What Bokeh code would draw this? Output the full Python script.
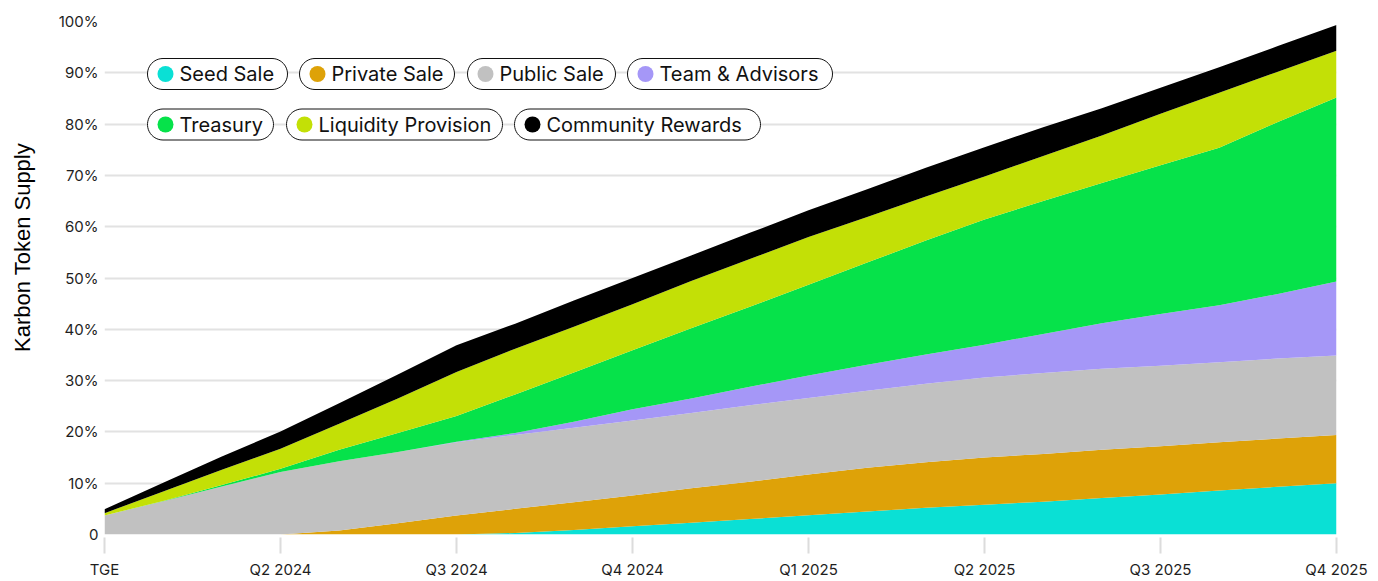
import numpy as np
from bokeh.plotting import figure
from bokeh.models import ColumnDataSource, FixedTicker, Range1d
from bokeh.core.properties import value
from bokeh.embed import file_html
from bokeh.resources import INLINE

# ---------------- data ----------------
months = list(range(22))  # months since TGE
tick_months = [0, 3, 6, 9, 12, 15, 18, 21]
tick_labels = ["TGE", "Q2 2024", "Q3 2024", "Q4 2024", "Q1 2025", "Q2 2025", "Q3 2025", "Q4 2025"]
y_ticks = [0, 10, 20, 30, 40, 50, 60, 70, 80, 90, 100]
y_tick_labels = ["0", "10%", "20%", "30%", "40%", "50%", "60%", "70%", "80%", "90%", "100%"]
y_title = "Karbon Token Supply"

series_names = ["Seed Sale", "Private Sale", "Public Sale", "Team & Advisors",
                "Treasury", "Liquidity Provision", "Community Rewards"]

seed_sale = [0, 0, 0, 0, 0, 0, 0, 0.3, 0.9, 1.6, 2.3, 3.0, 3.75, 4.5, 5.2, 5.8, 6.4, 7.1, 7.8, 8.6, 9.3, 10.0]
private_sale = [0, 0, 0, 0, 0.8, 2.2, 3.7, 4.7, 5.4, 6.0, 6.7, 7.3, 7.95, 8.5, 8.9, 9.2, 9.3, 9.4, 9.4, 9.4, 9.4, 9.4]
public_sale = [3.7, 6.5, 9.35, 12.2, 13.5, 13.9, 14.3, 14.4, 14.5, 14.6, 14.7, 14.9, 14.9, 15.0, 15.3, 15.6, 15.8, 15.8, 15.7, 15.6, 15.6, 15.5]
team_advisors = [0, 0, 0, 0, 0, 0, 0.1, 0.4, 1.2, 2.2, 2.8, 3.6, 4.4, 5.1, 5.7, 6.4, 7.6, 8.9, 10.1, 11.1, 12.6, 14.4]
treasury = [0, 0.05, 0.3, 0.6, 2.2, 3.7, 5.0, 7.5, 9.6, 11.5, 13.7, 15.6, 17.7, 19.9, 22.2, 24.4, 25.9, 27.3, 29.0, 30.7, 33.5, 35.9]
liquidity_provision = [0.45, 1.85, 2.95, 3.9, 5.1, 6.7, 8.6, 8.9, 8.9, 9.0, 9.2, 9.3, 9.3, 8.9, 8.6, 8.4, 8.8, 9.3, 10.0, 10.7, 9.8, 9.1]
community_rewards = [0.75, 1.7, 2.6, 3.4, 4.0, 4.7, 5.2, 4.9, 5.1, 5.1, 5.0, 5.1, 5.2, 5.4, 5.6, 5.7, 5.6, 5.3, 5.1, 5.0, 5.0, 5.0]

colors = ["#0ae0d5", "#dea208", "#c1c1c1", "#a597f7", "#06e24a", "#c3e006", "#000000"]

# ---------------- layout (pixels) ----------------
W, H = 1378, 581
FL, FR, FT, FB = 104, 1336, 21, 534
XMAX = months[-1]


def dx(px):
    return (px - FL) * XMAX / (FR - FL)


def dy(py):
    return (FB - py) * 100.0 / (FB - FT)


p = figure(width=W, height=H, x_range=Range1d(0, XMAX), y_range=Range1d(0, 100),
           output_backend="svg", toolbar_location=None,
           min_border_left=FL, min_border_right=W - FR,
           min_border_top=FT, min_border_bottom=H - FB)
p.outline_line_color = None
p.background_fill_color = "white"
p.border_fill_color = "white"

keys = ["seed", "private", "public", "team", "treasury", "liquidity", "community"]
src = ColumnDataSource(dict(x=months, seed=seed_sale, private=private_sale, public=public_sale,
                            team=team_advisors, treasury=treasury, liquidity=liquidity_provision,
                            community=community_rewards))
p.varea_stack(stackers=keys, x="x", color=colors, source=src)

# grid
p.xgrid.visible = False
p.ygrid.ticker = FixedTicker(ticks=y_ticks)
p.ygrid.grid_line_color = "#e2e2e2"
p.ygrid.grid_line_width = 2

# x axis
xa = p.xaxis[0]
xa.ticker = FixedTicker(ticks=tick_months)
xa.major_label_overrides = {t: lab for t, lab in zip(tick_months, tick_labels)}
xa.axis_line_color = None
xa.major_tick_line_color = "#dcdcdc"
xa.major_tick_line_width = 2
xa.major_tick_in = -3
xa.major_tick_out = 19
xa.minor_tick_line_color = None
xa.major_label_standoff = 6
xa.major_label_text_font = "Inter"
xa.major_label_text_font_size = "15px"
xa.major_label_text_color = "#1e1e1e"

# y axis
ya = p.yaxis[0]
ya.ticker = FixedTicker(ticks=y_ticks)
ya.major_label_overrides = {t: lab for t, lab in zip(y_ticks, y_tick_labels)}
ya.axis_line_color = None
ya.major_tick_line_color = None
ya.minor_tick_line_color = None
ya.major_tick_in = 0
ya.major_tick_out = 0
ya.major_label_text_align = "left"
ya.major_label_standoff = 6
ya.major_label_text_font = "Inter"
ya.major_label_text_font_size = "15px"
ya.major_label_text_color = "#1e1e1e"
# leading no-break spaces lift the (centred) title above the frame centre, as in the original
ya.axis_label = "\u00a0" * 10 + y_title
ya.axis_label_standoff = 21
ya.axis_label_text_font = "Liberation Sans"
ya.axis_label_text_font_style = "normal"
ya.axis_label_text_font_size = "22px"
ya.axis_label_text_color = "#000000"

# legend pills
pill_rows = [73.5, 73.5, 73.5, 73.5, 124, 124, 124]
pill_left = [147, 299, 467, 627, 147, 286, 514]
pill_right = [287, 454, 615, 832, 273, 502, 760]
r = 15.5
xs, ys = [], []
for cy, l, rr in zip(pill_rows, pill_left, pill_right):
    th1 = np.linspace(-np.pi / 2, np.pi / 2, 24)
    th2 = np.linspace(np.pi / 2, 3 * np.pi / 2, 24)
    px = np.concatenate([(rr - r) + r * np.cos(th1), (l + r) + r * np.cos(th2)])
    py = np.concatenate([cy + r * np.sin(th1), cy + r * np.sin(th2)])
    xs.append(list(dx(px)))
    ys.append(list(dy(py)))
p.patches(xs, ys, fill_color="white", line_color="#111111", line_width=1)

dot_x = [dx(l + 18) for l in pill_left]
dot_y = [dy(cy) for cy in pill_rows]
p.scatter(x=dot_x, y=dot_y, size=16, marker="circle", fill_color=colors, line_color=None)
p.text(x=[dx(l + 32) for l in pill_left], y=dot_y, text=series_names,
       text_font=value("Inter"), text_font_size="20px", text_baseline="middle",
       text_align="left", text_color="#111111")

open("out.html", "w").write(file_html(p, INLINE))
